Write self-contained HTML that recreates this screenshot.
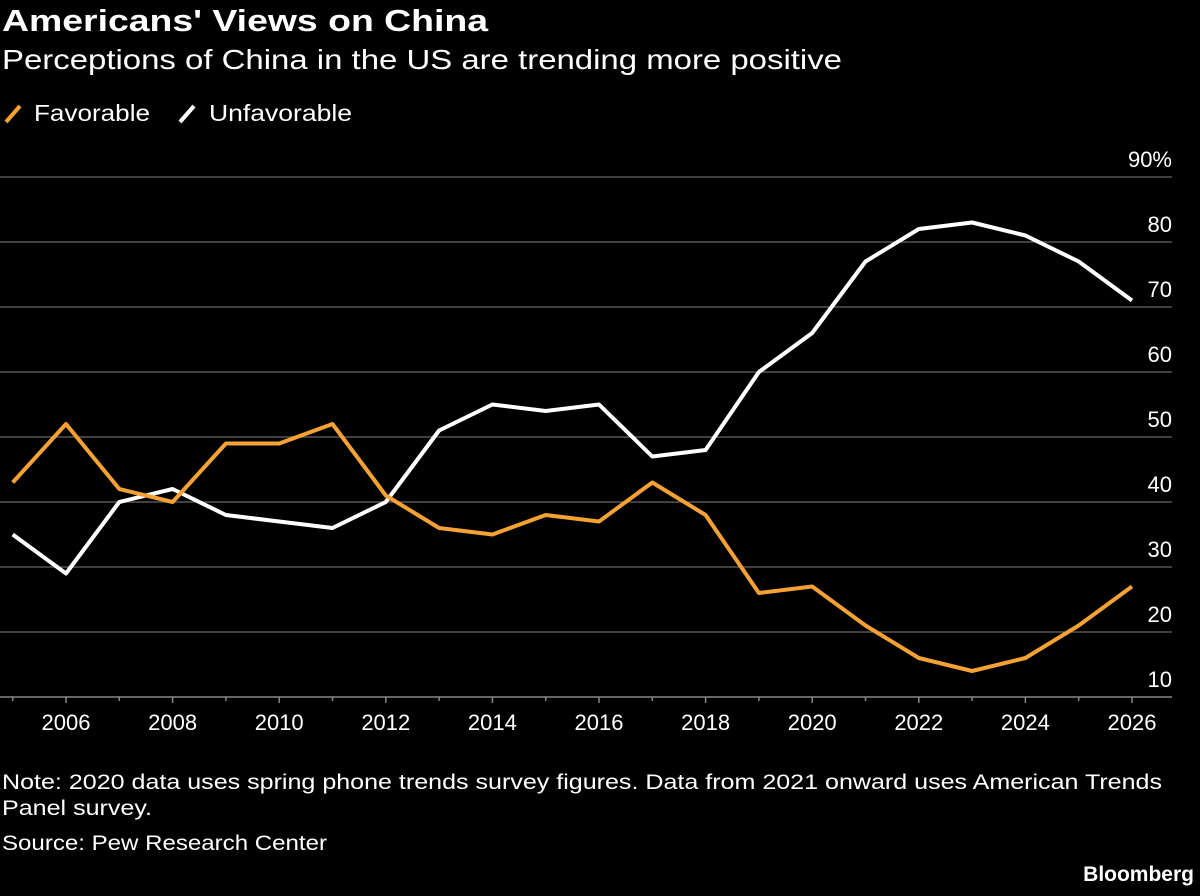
<!DOCTYPE html>
<html><head><meta charset="utf-8"><style>
body{margin:0;background:#000;width:1200px;height:891px;overflow:hidden;font-family:"Liberation Sans",sans-serif;color:#fff}
svg text{font-family:"Liberation Sans",sans-serif}
</style></head><body>
<svg width="1200" height="891">
<text x="2" y="31" font-size="31" font-weight="bold" fill="#fff" textLength="486" lengthAdjust="spacingAndGlyphs">Americans' Views on China</text>
<text x="2" y="69" font-size="28" fill="#fff" textLength="840" lengthAdjust="spacingAndGlyphs">Perceptions of China in the US are trending more positive</text>
<g>
<line x1="6" y1="122" x2="20" y2="106" stroke="#f5a133" stroke-width="4"/>
<text x="34" y="121" font-size="23" fill="#fff" textLength="116" lengthAdjust="spacingAndGlyphs">Favorable</text>
<line x1="180" y1="122" x2="194" y2="106" stroke="#fff" stroke-width="4"/>
<text x="209" y="121" font-size="23" fill="#fff" textLength="143" lengthAdjust="spacingAndGlyphs">Unfavorable</text>
</g>
<g id="grid"></g><g id="xaxis"></g><g id="series"></g>
<text x="2" y="789" font-size="21" fill="#fff" textLength="1160" lengthAdjust="spacingAndGlyphs">Note: 2020 data uses spring phone trends survey figures. Data from 2021 onward uses American Trends</text>
<text x="2" y="815" font-size="21" fill="#fff" textLength="150" lengthAdjust="spacingAndGlyphs">Panel survey.</text>
<text x="2" y="850" font-size="21" fill="#fff" textLength="325" lengthAdjust="spacingAndGlyphs">Source: Pew Research Center</text>
<text x="1194" y="881" font-size="21" font-weight="bold" fill="#fff" text-anchor="end">Bloomberg</text>
</svg>
<script>
const years=[2005,2006,2007,2008,2009,2010,2011,2012,2013,2014,2015,2016,2017,2018,2019,2020,2021,2022,2023,2024,2025,2026];
const favorable=[43,52,42,40,49,49,52,41,36,35,38,37,43,38,26,27,21,16,14,16,21,27];
const unfavorable=[35,29,40,42,38,37,36,40,51,55,54,55,47,48,60,66,77,82,83,81,77,71];
const yTicks=[10,20,30,40,50,60,70,80,90];
const xTicks=[2006,2008,2010,2012,2014,2016,2018,2020,2022,2024,2026];
const NS='http://www.w3.org/2000/svg';
const xs=y=>66+(y-2006)*53.3;
const ys=v=>697-(v-10)*6.5;
function mk(t,a,p){const e=document.createElementNS(NS,t);for(const k in a)e.setAttribute(k,a[k]);p.appendChild(e);return e;}
const grid=document.getElementById('grid');
yTicks.forEach(v=>{
 if(v>10){const l=mk('line',{x1:0,x2:1172,y1:ys(v),y2:ys(v),stroke:'#555','stroke-width':1.5},grid);
 
 }
 const t=mk('text',{x:1172,y:ys(v)-10,'font-size':22,fill:'#fff','text-anchor':'end'},grid);
 t.textContent=v==90?'90%':v;
 
 
});
const xa=document.getElementById('xaxis');
const base=mk('line',{x1:0,x2:1172,y1:697,y2:697,stroke:'#888','stroke-width':1.5},xa);


years.forEach(y=>{
 const major=xTicks.includes(y);
 const tk=mk('line',{x1:xs(y),x2:xs(y),y1:697,y2:major?703:701,stroke:'#888','stroke-width':1.5},xa);
 
 
});
xTicks.forEach(y=>{
 const t=mk('text',{x:xs(y),y:730,'font-size':22,fill:'#fff','text-anchor':'middle'},xa);
 t.textContent=y;
 
 
});
const s=document.getElementById('series');
[[unfavorable,'#ffffff','unfavorable-line'],[favorable,'#f5a133','favorable-line']].forEach(([d,c,n])=>{
 const p=mk('polyline',{points:d.map((v,i)=>xs(years[i])+','+ys(v)).join(' '),fill:'none',stroke:c,'stroke-width':4,'stroke-linejoin':'round'},s);
 
 
});
</script>
</body></html>
